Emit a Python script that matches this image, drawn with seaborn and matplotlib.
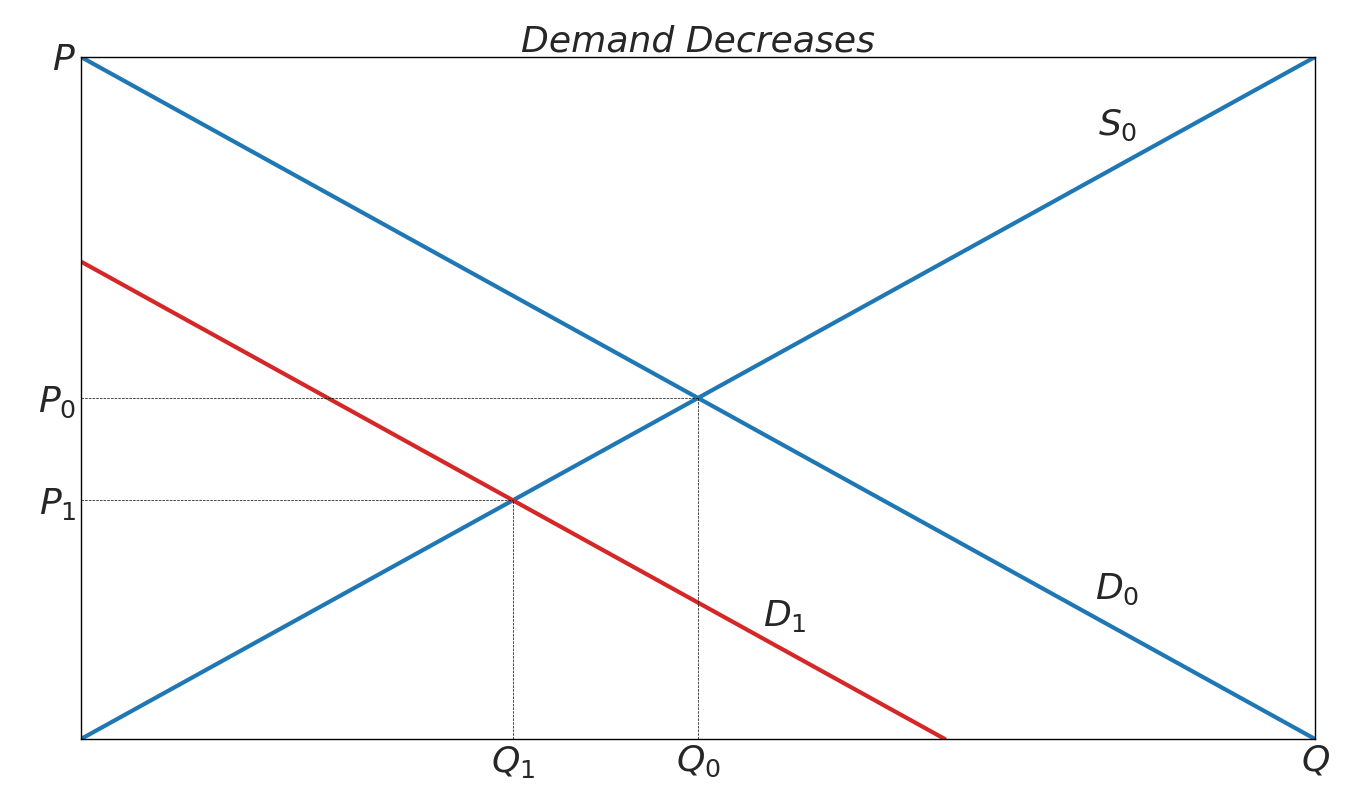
import numpy as np
import pandas as pd
import matplotlib
matplotlib.use("Agg")
import matplotlib.pyplot as plt
import seaborn as sns

sns.set_style("white")

q = [0, 10]
supply_s0 = [0, 10]
demand_d0 = [10, 0]
q_d1 = [0, 7]
demand_d1 = [7, 0]

q_eq = [3.5, 5]
p_eq = [3.5, 5]
x_ticks = [3.5, 5, 10]
x_labels = ["$Q_1$", "$Q_0$", "$Q$"]
y_ticks = [3.5, 5, 10]
y_labels = ["$P_1$", "$P_0$", "$P$"]

fig, ax = plt.subplots(figsize=(13.61, 8.05), dpi=100)

sns.lineplot(x=q, y=supply_s0, ax=ax, color="tab:blue", linewidth=3)
sns.lineplot(x=q, y=demand_d0, ax=ax, color="tab:blue", linewidth=3)
sns.lineplot(x=q_d1, y=demand_d1, ax=ax, color="tab:red", linewidth=3)

for qe, pe in zip(q_eq, p_eq):
    ax.plot([0, qe], [pe, pe], color="black", linestyle="--", linewidth=0.5)
    ax.plot([qe, qe], [0, pe], color="black", linestyle="--", linewidth=0.5)

ax.text(8.4, 9.0, "$S_0$", fontsize=26, ha="center", va="center")
ax.text(8.4, 2.2, "$D_0$", fontsize=26, ha="center", va="center")
ax.text(5.7, 1.8, "$D_1$", fontsize=26, ha="center", va="center")

ax.set_xlim(0, 10)
ax.set_ylim(0, 10)
ax.set_xticks(x_ticks)
ax.set_xticklabels(x_labels, fontsize=26)
ax.set_yticks(y_ticks)
ax.set_yticklabels(y_labels, fontsize=26)
ax.tick_params(length=0)
for s in ax.spines.values():
    s.set_color("black")
    s.set_linewidth(1)
ax.set_title("Demand Decreases", fontsize=26, fontstyle="italic", pad=4)

plt.subplots_adjust(left=81/1361, right=1315/1361, top=1-57/805, bottom=1-739/805)
plt.savefig("out.png", dpi=100)
